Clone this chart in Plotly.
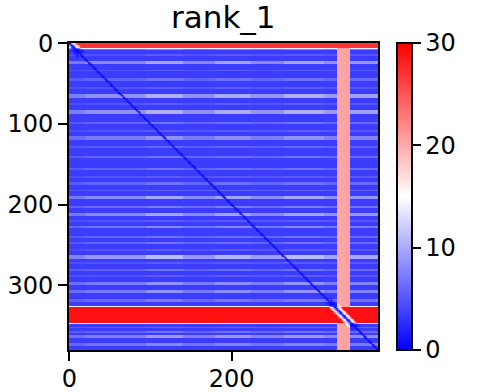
import numpy as np
import plotly.graph_objects as go

# ---------------- data ----------------
N_RES = 381
BASE_PAE = 3.5          # typical background error (blue)
DIAG_PAE = 0.5          # error on the diagonal

# lighter horizontal stripes: first row, last row, error level
stripe_start = [6, 14, 22, 33, 44, 55, 63, 75, 83, 98, 108, 116, 128, 140, 155, 165, 173, 182, 190, 202, 211, 220, 227, 239, 247, 256, 263, 272, 280, 288, 296, 306, 318, 352, 358, 363, 372]
stripe_end   = [8, 15, 25, 34, 46, 56, 67, 76, 87, 100, 109, 119, 129, 142, 157, 166, 175, 183, 193, 204, 214, 221, 229, 241, 249, 257, 267, 273, 282, 289, 299, 309, 320, 353, 359, 365, 375]
stripe_value = [7, 5, 8.5, 5, 6, 5, 9, 5, 9, 6, 5, 7.5, 5.5, 6, 6, 5, 6, 5.5, 8.5, 6.5, 8.5, 5, 7, 6, 6, 5, 9.5, 5, 6, 5, 7.5, 7.5, 6.5, 5.5, 6, 8, 7]

# column segments that modulate the stripes (brighter / darker columns)
colseg_start = [0, 20, 95, 140, 180, 225, 265, 315, 348]
colseg_end   = [19, 94, 139, 179, 224, 264, 314, 347, 380]
colseg_gain  = [0.7, 0.9, 1.25, 0.9, 1.2, 0.95, 1.25, 1.0, 1.05]

# high-error bands
nterm_rows = [0, 5];      nterm_value = 27
tail_rows = [328, 347];   tail_row_value = 29
tail_cols = [331, 345];   tail_col_value = 20.5
edge_value = 14

# half-width of the confident block around the diagonal, per residue segment
local_start = [0, 12, 322, 352]
local_end   = [11, 321, 351, 380]
local_width = [10, 3, 9, 3]

# ---------------- assemble the PAE matrix ----------------
row_add = np.zeros(N_RES)
for s, e, v in zip(stripe_start, stripe_end, stripe_value):
    row_add[s:e + 1] = v - BASE_PAE
col_gain = np.ones(N_RES)
for s, e, g in zip(colseg_start, colseg_end, colseg_gain):
    col_gain[s:e + 1] = g

pae = BASE_PAE + row_add[:, None] * col_gain[None, :]

c0, c1 = tail_cols
pae[:, c0 - 1] = np.maximum(pae[:, c0 - 1], edge_value)
pae[:, c1 + 1] = np.maximum(pae[:, c1 + 1], edge_value)
pae[:, c0:c1 + 1] = tail_col_value

r0, r1 = nterm_rows
pae[r0:r1 + 1, :] = np.maximum(pae[r0:r1 + 1, :], nterm_value)
pae[r1 + 1, :] = np.maximum(pae[r1 + 1, :], edge_value)

r0, r1 = tail_rows
pae[r0 - 1, :] = np.maximum(pae[r0 - 1, :], edge_value)
pae[r1 + 1, :] = np.maximum(pae[r1 + 1, :], edge_value)
pae[r0:r1 + 1, :] = tail_row_value

width = np.ones(N_RES)
for s, e, w in zip(local_start, local_end, local_width):
    width[s:e + 1] = w
idx = np.arange(N_RES)
dist = np.abs(idx[:, None] - idx[None, :])
w_ij = np.maximum(width[:, None], width[None, :])
frac = np.clip(dist / w_ij, 0, 1)
pae = DIAG_PAE + (pae - DIAG_PAE) * frac

# ---------------- figure ----------------
FONT = "DejaVu Sans"
bwr = [[0.0, "rgb(0,0,255)"], [0.5, "rgb(255,255,255)"], [1.0, "rgb(255,0,0)"]]

fig = go.Figure(go.Heatmap(
    z=pae, x=idx, y=idx, colorscale=bwr, zmin=0, zmax=30,
    colorbar=dict(
        x=1.061, xanchor="left", xpad=0, y=0.5, yanchor="middle", ypad=0,
        len=1, lenmode="fraction", thickness=15,
        outlinecolor="black", outlinewidth=2,
        tickvals=[0, 10, 20, 30], ticks="outside", ticklen=8, tickwidth=2,
        tickcolor="black", tickfont=dict(family=FONT, size=24, color="black"),
    ),
    hoverinfo="skip",
))

axis_common = dict(
    showgrid=False, zeroline=False, showline=True, linecolor="black",
    linewidth=2, mirror=True, ticks="outside", ticklen=9, tickwidth=2,
    tickcolor="black", tickfont=dict(family=FONT, size=24, color="black"),
    automargin=False,
)
fig.update_xaxes(range=[-0.5, N_RES - 0.5], tickvals=[0, 200],
                 ticklabelstandoff=-3, **axis_common)
fig.update_yaxes(range=[N_RES - 0.5, -0.5], tickvals=[0, 100, 200, 300], **axis_common)

fig.update_layout(
    width=484, height=392,
    margin=dict(l=69, r=106, t=43, b=42, autoexpand=False),
    plot_bgcolor="white", paper_bgcolor="white",
    annotations=[dict(text="rank_1", x=0.5, y=1, xref="paper", yref="paper",
                      xanchor="center", yanchor="bottom", yshift=6, showarrow=False,
                      font=dict(family=FONT, size=31, color="black"))],
)

fig.write_html("out.html", config={"displayModeBar": False},
               post_script="document.body.style.margin='0';document.body.style.overflow='hidden';")
